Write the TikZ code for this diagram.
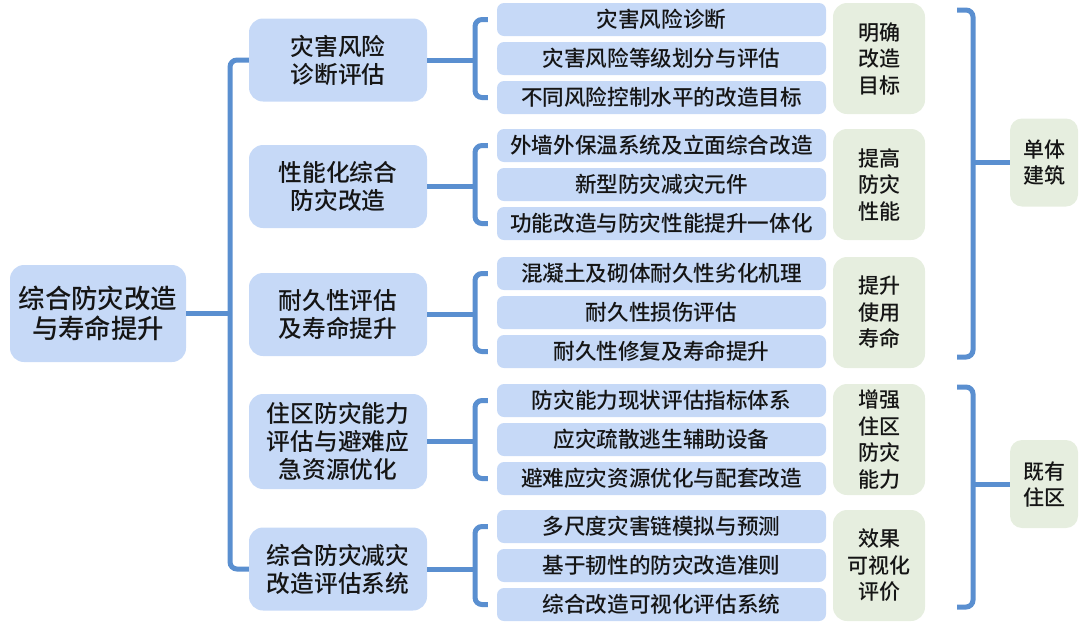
\documentclass[tikz,border=0pt]{standalone}
\usepackage{fontspec}
\newfontfamily\cjk{Noto Sans CJK SC}[UprightFont={* Medium}]
\usetikzlibrary{calc}
\definecolor{boxblue}{HTML}{C6D9F7}
\definecolor{boxgreen}{HTML}{E6EEDF}
\definecolor{linkblue}{HTML}{5A8FD0}
\definecolor{txt}{HTML}{151515}
\begin{document}
\begin{tikzpicture}[x=1pt,y=-1pt,
  base/.style={inner sep=0pt, align=center, text=txt},
  rootbox/.style={base, fill=boxblue, rounded corners=14pt, minimum width=176pt, minimum height=97pt,
    font=\cjk\fontsize{26.4}{30}\selectfont},
  lonebox/.style={base, fill=boxblue, rounded corners=14pt, minimum width=178pt, minimum height=83pt,
    font=\cjk\fontsize{23.7}{28}\selectfont},
  itembox/.style={base, fill=boxblue, rounded corners=7pt, minimum width=329pt, minimum height=33pt,
    font=\cjk\fontsize{21.6}{26}\selectfont},
  goalbox/.style={base, fill=boxgreen, rounded corners=14pt, minimum width=92pt, minimum height=111pt,
    font=\cjk\fontsize{21}{26.5}\selectfont},
  sidebox/.style={base, fill=boxgreen, rounded corners=12pt, minimum width=68pt, minimum height=88pt,
    font=\cjk\fontsize{21}{26}\selectfont},
  link/.style={draw=linkblue, line width=5pt, rounded corners=7pt}
]
\useasboundingbox (0,0) rectangle (1080,622);

% root
\node[rootbox] (root) at (98,313.5) {综合防灾改造\\与寿命提升};

% level 1
\node[lonebox] (b1) at (338,60) {灾害风险\\诊断评估};
\node[lonebox] (b2) at (338,186.5) {性能化综合\\防灾改造};
\node[lonebox] (b3) at (338,314.5) {耐久性评估\\及寿命提升};
\node[lonebox, minimum height=95pt] (b4) at (338,441.5) {住区防灾能力\\评估与避难应\\急资源优化};
\node[lonebox] (b5) at (338,569) {综合防灾减灾\\改造评估系统};

% items
\node[itembox] (i1) at (661.5,19.5) {灾害风险诊断};
\node[itembox] (i2) at (661.5,58.5) {灾害风险等级划分与评估};
\node[itembox] (i3) at (661.5,97.5) {不同风险控制水平的改造目标};
\node[itembox] (i4) at (661.5,145.5) {外墙外保温系统及立面综合改造};
\node[itembox] (i5) at (661.5,184.5) {新型防灾减灾元件};
\node[itembox] (i6) at (661.5,223.5) {功能改造与防灾性能提升一体化};
\node[itembox] (i7) at (661.5,273.5) {混凝土及砌体耐久性劣化机理};
\node[itembox] (i8) at (661.5,312.5) {耐久性损伤评估};
\node[itembox] (i9) at (661.5,351.5) {耐久性修复及寿命提升};
\node[itembox] (i10) at (661.5,400.5) {防灾能力现状评估指标体系};
\node[itembox] (i11) at (661.5,439.5) {应灾疏散逃生辅助设备};
\node[itembox] (i12) at (661.5,478.5) {避难应灾资源优化与配套改造};
\node[itembox] (i13) at (661.5,526.5) {多尺度灾害链模拟与预测};
\node[itembox] (i14) at (661.5,565.5) {基于韧性的防灾改造准则};
\node[itembox] (i15) at (661.5,604.5) {综合改造可视化评估系统};

% goals
\node[goalbox] (g1) at (879,58.5) {明确\\改造\\目标};
\node[goalbox] (g2) at (879,184.5) {提高\\防灾\\性能};
\node[goalbox] (g3) at (879,312.5) {提升\\使用\\寿命};
\node[goalbox] (g4) at (879,439.5) {增强\\住区\\防灾\\能力};
\node[goalbox] (g5) at (879,565.5) {效果\\可视化\\评价};

% side boxes
\node[sidebox] (s1) at (1044,162.5) {单体\\建筑};
\node[sidebox] (s2) at (1044,484) {既有\\住区};

% trunk
\coordinate (tr) at (230,0);
\draw[link] (root.east) -- (root.east -| tr);
\draw[link] (b1.west) -- (b1.west -| tr) -- (b5.west -| tr) -- (b5.west);

% level-2 brackets
\coordinate (bk) at (475,0);
\foreach \b/\p/\q in {b1/i1/i3, b2/i4/i6, b3/i7/i9, b4/i10/i12, b5/i13/i15}{
  \draw[link] (\b.east) -- (\b.east -| bk);
  \draw[link] ($(\p.west)+(-9,0)$) -- (\p.west -| bk) -- (\q.west -| bk) -- ($(\q.west)+(-9,0)$);
}

% right brackets
\coordinate (rb) at (973,0);
\coordinate (u1) at (957,10);
\coordinate (u2) at (957,357);
\coordinate (l1) at (957,387);
\coordinate (l2) at (957,607);
\draw[link] (u1) -- (u1 -| rb) -- (u2 -| rb) -- (u2);
\draw[link] (l1) -- (l1 -| rb) -- (l2 -| rb) -- (l2);
\draw[link] (s1.west -| rb) -- (s1.west);
\draw[link] (s2.west -| rb) -- (s2.west);
\end{tikzpicture}
\end{document}
